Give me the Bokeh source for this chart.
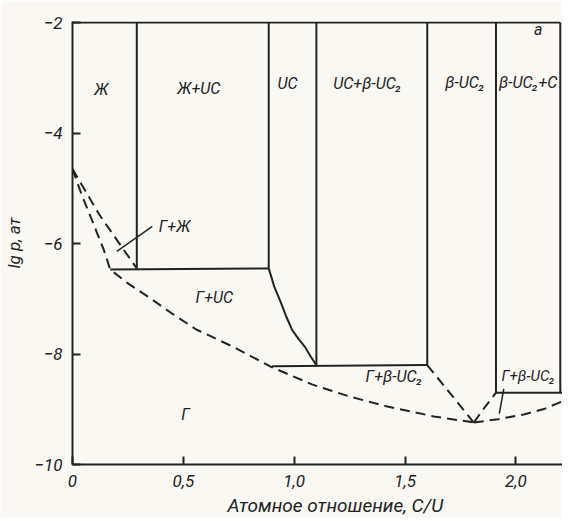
from bokeh.plotting import figure
from bokeh.models import FixedTicker, Title, Range1d, ColumnDataSource
from bokeh.core.properties import value
from bokeh.embed import file_html
from bokeh.resources import INLINE

FONT = "Roboto"
INK = "#232323"
PAPER = "#f9f8f3"

# ---- axes ----
x_ticks = [0, 0.5, 1.0, 1.5, 2.0]
x_tick_labels = ["0", "0,5", "1,0", "1,5", "2,0"]
y_ticks = [-10, -8, -6, -4, -2]
y_tick_labels = ["−10", "−8", "−6", "−4", "−2"]

# ---- solid phase boundaries (C/U ratio, lg p) ----
solid_xs = [
    [0.0, 2.2],
    [0.29, 0.29],
    [0.17, 0.885],
    [0.885, 0.885],
    [0.885, 0.91, 0.94, 0.965, 0.99, 1.02, 1.05, 1.075, 1.10],
    [1.10, 1.10],
    [0.90, 1.60],
    [1.60, 1.60],
    [1.91, 1.91],
    [1.91, 2.25],
    [2.2, 2.2],
]
solid_ys = [
    [-2.0, -2.0],
    [-2.0, -6.45],
    [-6.47, -6.45],
    [-2.0, -6.45],
    [-6.45, -6.78, -7.07, -7.33, -7.56, -7.73, -7.88, -8.05, -8.2],
    [-2.0, -8.2],
    [-8.22, -8.2],
    [-2.0, -8.2],
    [-2.0, -8.7],
    [-8.7, -8.7],
    [-2.0, -8.7],
]

# ---- dashed (gas) boundaries ----
gas_outer_x = [0.0, 0.04, 0.08, 0.11, 0.14, 0.17, 0.25, 0.34, 0.45, 0.56, 0.73, 0.90, 1.08, 1.25, 1.42, 1.63, 1.81]
gas_outer_y = [-4.65, -5.1, -5.5, -5.8, -6.1, -6.47, -6.72, -6.96, -7.27, -7.56, -7.88, -8.24, -8.55, -8.77, -8.95, -9.13, -9.24]
gas_right_x = [1.81, 1.92, 2.04, 2.13, 2.23]
gas_right_y = [-9.24, -9.18, -9.09, -8.99, -8.82]
gas_inner_x = [0.0, 0.12, 0.22, 0.29]
gas_inner_y = [-4.65, -5.47, -6.05, -6.45]
gas_v_left_x = [1.60, 1.81]
gas_v_left_y = [-8.2, -9.24]
gas_v_right_x = [1.81, 1.86, 1.91]
gas_v_right_y = [-9.24, -8.96, -8.7]

# ---- leader lines ----
leader_xs = [[0.36, 0.20], [1.945, 1.925]]
leader_ys = [[-5.69, -6.14], [-8.63, -9.08]]

# ---- region labels ----
label_text = ["Ж", "Ж+UC", "UC", "UC+β-UC₂", "β-UC₂", "β-UC₂+C", "а",
              "Г+Ж", "Г+UC", "Г+β-UC₂", "Г"]
label_x = [0.13, 0.57, 0.97, 1.33, 1.77, 2.055, 2.10, 0.46, 0.64, 1.45, 0.51]
label_y = [-3.22, -3.2, -3.1, -3.1, -3.08, -3.08, -2.13, -5.69, -6.98, -8.41, -9.1]
label_right_text = ["Г+β-UC₂"]
label_right_x = [1.935]
label_right_y = [-8.39]

p = figure(width=562, height=518, x_range=Range1d(0, 2.21), y_range=Range1d(-10, -1.98),
           output_backend="svg", toolbar_location=None,
           min_border_left=63, min_border_right=0, min_border_top=21, min_border_bottom=54)
p.background_fill_color = PAPER
p.border_fill_color = PAPER
p.outline_line_color = None
p.grid.visible = False

p.multi_line(solid_xs, solid_ys, line_color=INK, line_width=2)
for xs, ys in [(gas_outer_x, gas_outer_y), (gas_right_x, gas_right_y), (gas_inner_x, gas_inner_y),
               (gas_v_left_x, gas_v_left_y), (gas_v_right_x, gas_v_right_y)]:
    p.line(xs, ys, line_color=INK, line_width=2, line_dash="10 6")
p.multi_line(leader_xs, leader_ys, line_color=INK, line_width=1.5)

src = ColumnDataSource(dict(x=label_x, y=label_y, t=label_text))
p.text("x", "y", text="t", source=src, text_align="center", text_baseline="middle",
       text_font=value(FONT), text_font_size="16px", text_font_style="italic", text_color=INK)
src2 = ColumnDataSource(dict(x=label_right_x, y=label_right_y, t=label_right_text))
p.text("x", "y", text="t", source=src2, text_align="left", text_baseline="middle",
       text_font=value(FONT), text_font_size="15px", text_font_style="italic", text_color=INK)

p.xaxis.ticker = FixedTicker(ticks=x_ticks)
p.xaxis.major_label_overrides = dict(zip(x_ticks, x_tick_labels))
p.yaxis.ticker = FixedTicker(ticks=y_ticks)
p.yaxis.major_label_overrides = dict(zip(y_ticks, y_tick_labels))
for ax in p.axis:
    ax.axis_line_color = INK
    ax.axis_line_width = 2
    ax.major_tick_line_color = INK
    ax.major_tick_line_width = 2
    ax.major_tick_in = 8
    ax.major_tick_out = 0
    ax.minor_tick_line_color = None
    ax.major_label_text_font = FONT
    ax.major_label_text_font_size = "17px"
    ax.major_label_text_font_style = "italic"
    ax.major_label_text_color = INK
    ax.major_label_standoff = 10
p.yaxis.axis_label = "lg p, ат"
p.yaxis.axis_label_text_font = FONT
p.yaxis.axis_label_text_font_size = "17px"
p.yaxis.axis_label_text_font_style = "italic"
p.yaxis.axis_label_text_color = INK
p.yaxis.axis_label_standoff = 8

p.add_layout(Title(text="Атомное отношение, C/U", align="left", offset=155, standoff=4,
                   text_font=FONT, text_font_size="19px", text_font_style="italic",
                   text_color=INK), "below")

open("out.html", "w").write(file_html(p, INLINE))
